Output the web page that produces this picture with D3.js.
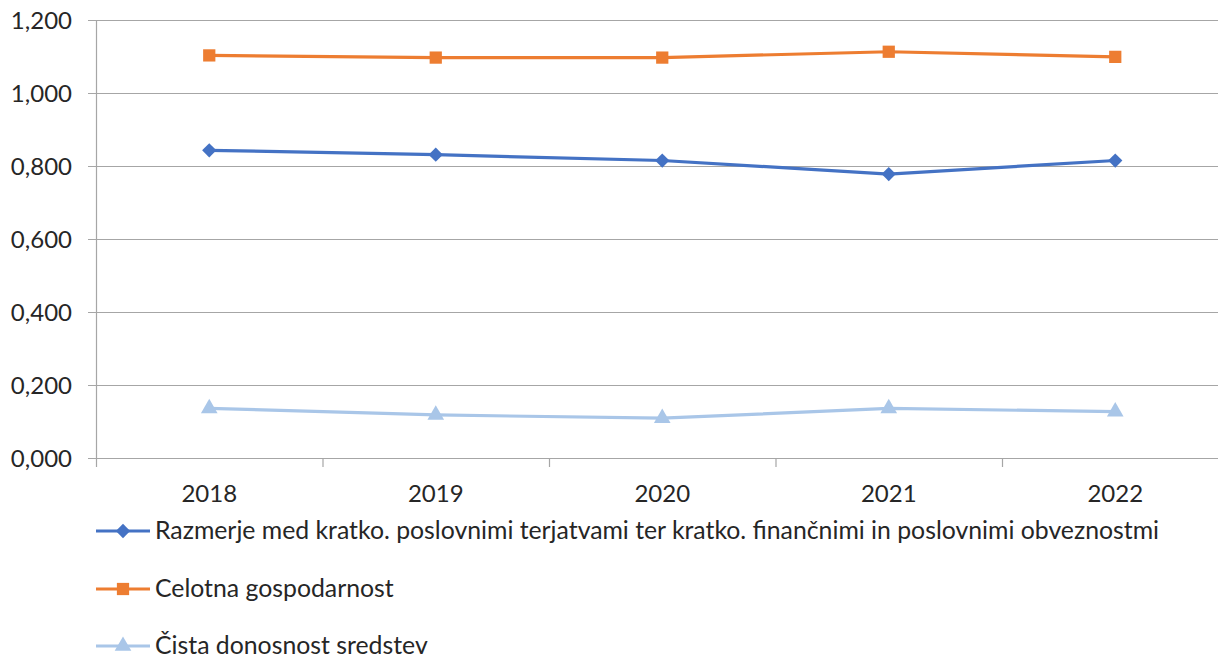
<!DOCTYPE html>
<html>
<head>
<meta charset="utf-8">
<script src="https://cdn.jsdelivr.net/npm/d3@7"></script>
<style>
  body { margin: 0; background: #fff; overflow: hidden; }
  text { font-family: Lato, "Open Sans", sans-serif; fill: #262626; }
</style>
</head>
<body>
<div id="chart"></div>
<script>
// Data
let years = ['2018', '2019', '2020', '2021', '2022'];
let razmerje = [0.843, 0.831, 0.815, 0.778, 0.815];
let celotna = [1.103, 1.097, 1.097, 1.113, 1.099];
let cista = [0.136, 0.118, 0.109, 0.136, 0.127];
let yTicks = [0, 0.2, 0.4, 0.6, 0.8, 1.0, 1.2];

let series = [
    { name: 'Razmerje med kratko. poslovnimi terjatvami ter kratko. finančnimi in poslovnimi obveznostmi', values: razmerje, color: '#4472c4', symbol: d3.symbolDiamond2, size: 130 },
    { name: 'Celotna gospodarnost', values: celotna, color: '#ed7d31', symbol: d3.symbolSquare, size: 150 },
    { name: 'Čista donosnost sredstev', values: cista, color: '#a9c6e8', symbol: d3.symbolTriangle, size: 120 }
];

let W = 1218, H = 660;
let margin = { top: 20, left: 96 };
let plotW = 226.5 * years.length;
let plotH = 438;

let svg = d3.select('#chart').append('svg')
    .attr('width', W)
    .attr('height', H);

let g = svg.append('g')
    .attr('transform', 'translate(' + margin.left + ',' + margin.top + ')');

let x = d3.scaleBand().domain(years).range([0, plotW]);
let y = d3.scaleLinear().domain([0, 1.2]).range([plotH, 0]);

// Gridlines
g.selectAll('.grid')
    .data(yTicks)
    .enter().append('line')
    .attr('class', 'grid')
    .attr('x1', -8)
    .attr('x2', plotW)
    .attr('y1', d => y(d) + 0.5)
    .attr('y2', d => y(d) + 0.5)
    .style('stroke', '#a6a6a6')
    .style('stroke-width', 1.2);

// Y axis line
g.append('line')
    .attr('x1', 0.5).attr('x2', 0.5)
    .attr('y1', 0).attr('y2', plotH + 9)
    .style('stroke', '#a6a6a6')
    .style('stroke-width', 1.2);

// Category ticks
g.selectAll('.xtick')
    .data(years.slice(1))
    .enter().append('line')
    .attr('class', 'xtick')
    .attr('x1', d => x(d) + 0.5)
    .attr('x2', d => x(d) + 0.5)
    .attr('y1', plotH)
    .attr('y2', plotH + 9)
    .style('stroke', '#a6a6a6')
    .style('stroke-width', 1.2);

// Y labels, decimal comma like the original
let locale = d3.formatLocale({ decimal: ',', thousands: '.', grouping: [3], currency: ['', ''] });
let fmt = locale.format('.3f');
g.selectAll('.ylabel')
    .data(yTicks)
    .enter().append('text')
    .attr('x', -24)
    .attr('y', d => y(d))
    .attr('dy', '0.36em')
    .attr('text-anchor', 'end')
    .style('font-size', '24px')
    .text(d => fmt(d));

// X labels
g.selectAll('.xlabel')
    .data(years)
    .enter().append('text')
    .attr('x', d => x(d) + x.bandwidth() / 2)
    .attr('y', plotH + 44)
    .attr('text-anchor', 'middle')
    .style('font-size', '24px')
    .text(d => d);

// Lines and markers
let line = d3.line()
    .x((d, i) => x(years[i]) + x.bandwidth() / 2)
    .y(d => y(d));

series.forEach(function(s) {
    g.append('path')
        .datum(s.values)
        .attr('d', line)
        .style('fill', 'none')
        .style('stroke', s.color)
        .style('stroke-width', 3.2)
        .style('stroke-linejoin', 'round');

    g.selectAll(null)
        .data(s.values)
        .enter().append('path')
        .attr('transform', (d, i) => 'translate(' + (x(years[i]) + x.bandwidth() / 2) + ',' + y(d) + ')')
        .attr('d', d3.symbol().type(s.symbol).size(s.size))
        .style('fill', s.color);
});

// Legend
let legendRows = [531, 589, 646];
let legend = svg.append('g');
series.forEach(function(s, i) {
    let ly = legendRows[i];
    legend.append('line')
        .attr('x1', 96).attr('x2', 150)
        .attr('y1', ly).attr('y2', ly)
        .style('stroke', s.color)
        .style('stroke-width', 3.2);
    legend.append('path')
        .attr('transform', 'translate(123,' + ly + ')')
        .attr('d', d3.symbol().type(s.symbol).size(s.size))
        .style('fill', s.color);
    legend.append('text')
        .attr('x', 155)
        .attr('y', ly)
        .attr('dy', '0.32em')
        .style('font-size', '24.8px')
        .text(s.name);
});
</script>
</body>
</html>
